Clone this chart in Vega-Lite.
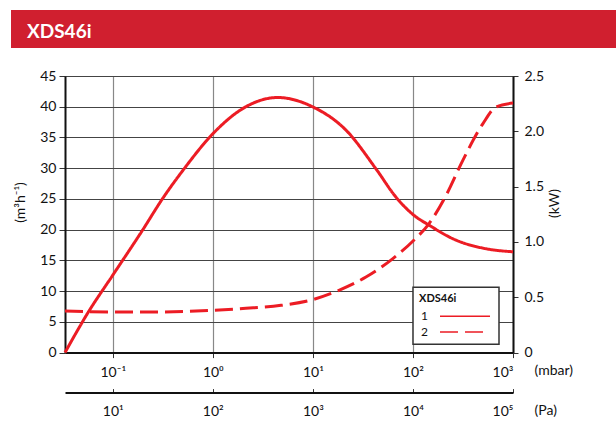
{
  "$schema": "https://vega.github.io/schema/vega-lite/v6.json",
  "padding": {"left": 11, "top": 10, "right": 0, "bottom": 0},
  "background": "white",
  "spacing": 20,
  "config": {
    "font": "Lato",
    "axis": {"labelFont": "Lato", "labelFontSize": 14, "labelColor": "#111", "titleFont": "Lato", "titleFontSize": 14, "titleFontWeight": "normal", "titleColor": "#111", "domainColor": "#111", "tickColor": "#333"},
    "legend": {
      "orient": "none", "legendX": 402, "legendY": 277.3, "padding": 6,
      "fillColor": "white", "strokeColor": "#333", "strokeWidth": 1.5,
      "titleFont": "Lato", "titleFontSize": 11, "titleFontWeight": "bold", "titleColor": "#111", "titlePadding": 6,
      "labelFont": "Lato", "labelFontSize": 12, "labelColor": "#111", "labelAlign": "left",
      "symbolType": "M-5,0H5", "symbolSize": 100, "symbolStrokeWidth": 1.5, "symbolStrokeColor": "#ec1c24",
      "rowPadding": 3.6, "labelOffset": -50, "symbolOffset": 40
    }
  },
  "datasets": {
    "speed": [
      {"curve": "1", "mbar": 0.0333, "value": 0},
      {"curve": "1", "mbar": 0.057, "value": 6.6},
      {"curve": "1", "mbar": 0.1, "value": 12.6},
      {"curve": "1", "mbar": 0.198, "value": 19.9},
      {"curve": "1", "mbar": 0.313, "value": 25.0},
      {"curve": "1", "mbar": 0.516, "value": 29.9},
      {"curve": "1", "mbar": 1.0, "value": 35.6},
      {"curve": "1", "mbar": 2.14, "value": 40.0},
      {"curve": "1", "mbar": 4.43, "value": 41.5},
      {"curve": "1", "mbar": 9.9, "value": 40.0},
      {"curve": "1", "mbar": 21.4, "value": 36.2},
      {"curve": "1", "mbar": 42.7, "value": 29.9},
      {"curve": "1", "mbar": 67.6, "value": 25.3},
      {"curve": "1", "mbar": 103, "value": 22.3},
      {"curve": "1", "mbar": 146, "value": 20.7},
      {"curve": "1", "mbar": 269, "value": 18.3},
      {"curve": "1", "mbar": 537, "value": 16.9},
      {"curve": "1", "mbar": 1000, "value": 16.4}
    ],
    "power": [
      {"curve": "2", "mbar": 0.0333, "value": 0.376},
      {"curve": "2", "mbar": 0.1, "value": 0.367},
      {"curve": "2", "mbar": 0.29, "value": 0.367},
      {"curve": "2", "mbar": 1.0, "value": 0.382},
      {"curve": "2", "mbar": 2.14, "value": 0.40},
      {"curve": "2", "mbar": 4.8, "value": 0.427},
      {"curve": "2", "mbar": 10, "value": 0.479},
      {"curve": "2", "mbar": 18.2, "value": 0.563},
      {"curve": "2", "mbar": 33.9, "value": 0.683},
      {"curve": "2", "mbar": 63, "value": 0.85},
      {"curve": "2", "mbar": 102, "value": 1.015},
      {"curve": "2", "mbar": 145, "value": 1.166},
      {"curve": "2", "mbar": 214, "value": 1.42},
      {"curve": "2", "mbar": 316, "value": 1.74},
      {"curve": "2", "mbar": 501, "value": 2.07},
      {"curve": "2", "mbar": 676, "value": 2.22},
      {"curve": "2", "mbar": 1000, "value": 2.255}
    ],
    "pa": [
      {"pa": 10}, {"pa": 100}, {"pa": 1000}, {"pa": 10000}, {"pa": 100000}
    ]
  },
  "vconcat": [
    {
      "width": 605,
      "height": 38,
      "view": {"fill": "#d01f2f", "stroke": null},
      "data": {"values": [{"name": "XDS46i"}]},
      "mark": {"type": "rect", "color": "#d01f2f"},
      "title": {"text": "XDS46i", "anchor": "start", "frame": "group", "orient": "bottom", "offset": -9.7, "baseline": "alphabetic", "color": "white", "font": "Lato", "fontSize": 19, "fontWeight": "bold", "dx": 16}
    },
    {
      "spacing": 0,
      "hconcat": [
        {
          "width": 1,
          "height": 1,
          "view": {"stroke": null},
          "data": {"values": [{"name": "spacer"}]},
          "mark": {"type": "point", "opacity": 0, "size": 0}
        },
        {
          "width": 448,
          "height": 276.6,
          "view": {"stroke": "#222", "strokeWidth": 1},
          "layer": [
            {
              "data": {"name": "speed"},
              "mark": {"type": "line", "color": "#ec1c24", "strokeWidth": 3, "interpolate": "monotone"},
              "encoding": {
                "x": {"field": "mbar", "type": "quantitative",
                  "scale": {"type": "log", "domain": [0.0333, 1000], "nice": false},
                  "axis": {"values": [0.1, 1, 10, 100, 1000],
                    "labelExpr": "datum.value < 0.5 ? '10⁻¹' : datum.value < 5 ? '10⁰' : datum.value < 50 ? '10¹' : datum.value < 500 ? '10²' : '10³'",
                    "grid": true, "gridColor": "#888", "gridWidth": 1.2, "domainWidth": 2, "tickSize": 5, "labelPadding": 8,
                    "title": "(mbar)", "titleX": 469, "titleY": 18, "titleAlign": "left", "titleBaseline": "middle", "titleAngle": 0}},
                "y": {"field": "value", "type": "quantitative",
                  "scale": {"domain": [0, 45], "nice": false},
                  "axis": {"values": [0, 5, 10, 15, 20, 25, 30, 35, 40, 45], "grid": true, "gridColor": "#444", "gridWidth": 1.1,
                    "domainWidth": 2, "tickSize": 6, "labelPadding": 3,
                    "title": "(m³h⁻¹)", "titleX": -45, "titleY": 126, "titleAngle": 270, "titleAlign": "center", "titleBaseline": "middle"}},
                "strokeDash": {"field": "curve", "type": "nominal",
                  "scale": {"domain": ["1", "2"], "range": [[1, 0], [18, 7]]},
                  "legend": {"title": "XDS46i"}}
              }
            },
            {
              "data": {"name": "power"},
              "mark": {"type": "line", "color": "#ec1c24", "strokeWidth": 3, "interpolate": "monotone"},
              "encoding": {
                "x": {"field": "mbar", "type": "quantitative",
                  "scale": {"type": "log", "domain": [0.0333, 1000], "nice": false}, "axis": null},
                "y": {"field": "value", "type": "quantitative",
                  "scale": {"domain": [0, 2.5], "nice": false},
                  "axis": {"orient": "right", "values": [0, 0.5, 1, 1.5, 2, 2.5],
                    "labelExpr": "datum.value == 0 ? '0' : format(datum.value, '.1f')",
                    "grid": false, "domainWidth": 2, "tickSize": 5, "labelPadding": 6,
                    "title": "(kW)", "titleX": 41, "titleY": 127, "titleAngle": 270, "titleAlign": "center", "titleBaseline": "middle"}},
                "strokeDash": {"field": "curve", "type": "nominal",
                  "scale": {"domain": ["1", "2"], "range": [[1, 0], [18, 7]]},
                  "legend": {"title": "XDS46i"}}
              }
            },
            {
              "data": {"name": "pa"},
              "mark": {"type": "point", "opacity": 0},
              "encoding": {
                "x": {"field": "pa", "type": "quantitative",
                  "scale": {"type": "log", "domain": [3.333, 100000], "nice": false},
                  "axis": {"orient": "bottom", "offset": 40, "values": [10, 100, 1000, 10000, 100000],
                    "labelExpr": "datum.value < 50 ? '10¹' : datum.value < 500 ? '10²' : datum.value < 5000 ? '10³' : datum.value < 50000 ? '10⁴' : '10⁵'",
                    "grid": false, "domainWidth": 2, "tickSize": -4, "labelPadding": 16,
                    "title": "(Pa)", "titleX": 469, "titleY": 18, "titleAlign": "left", "titleBaseline": "middle", "titleAngle": 0}}
              }
            }
          ],
          "resolve": {"scale": {"x": "independent", "y": "independent"}, "axis": {"x": "independent", "y": "independent"}}
        }
      ]
    }
  ]
}
